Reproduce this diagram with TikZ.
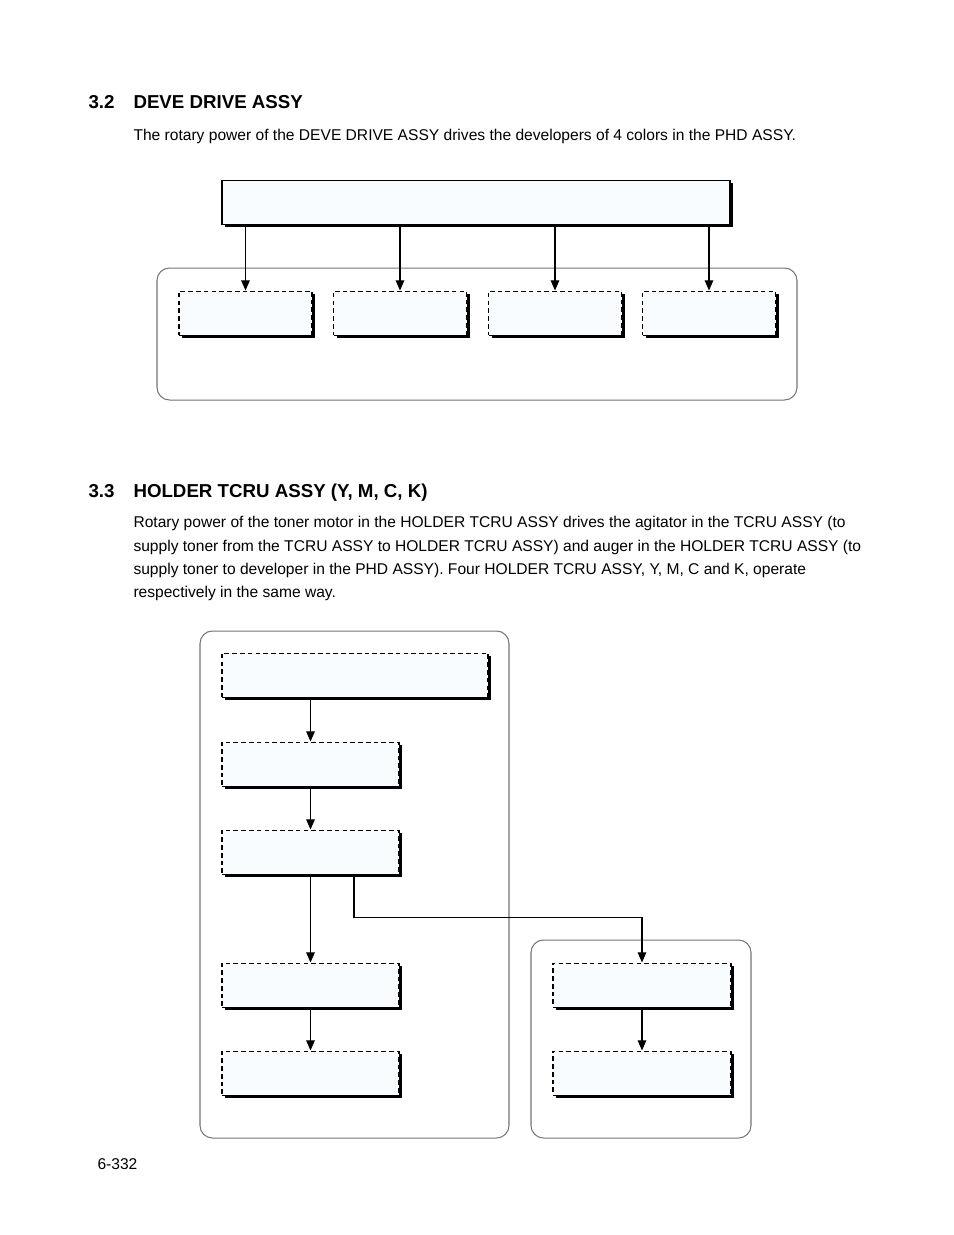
\documentclass[tikz,border=0pt]{standalone}
\usepackage{fontspec}
\setmainfont{Liberation Sans}
\usetikzlibrary{arrows.meta,shadows}
\newdimen\px \px=0.6415pt
\definecolor{boxfill}{RGB}{248,252,255}

\begin{document}
\begin{tikzpicture}
  [
  x=0.6415pt, y=-0.6415pt, line width=0.65pt,
  font=\fontsize{10}{12}\selectfont,
  head/.style={anchor=base west, inner sep=0pt, font=\fontsize{12}{14}\selectfont\bfseries},
  body/.style={anchor=base west, inner sep=0pt},
  unitbox/.style={rectangle, inner sep=0pt, draw=black, fill=boxfill, minimum height=44*\px,
    drop shadow={shadow xshift=2.2pt, shadow yshift=-2.2pt, fill=black, opacity=1}},
  devbox/.style={unitbox, dash pattern=on 3pt off 2pt},
  group/.style={draw=black!55, rounded corners=8pt},
  arr/.style={-{Triangle[length=6.5pt,width=5.5pt]}},
  ]

\useasboundingbox (0,0) rectangle (954,1235);

% 3.2
\node[head] (n32) at (88,108) {3.2};
\node[head] (t32) at (133,108) {DEVE DRIVE ASSY};
\node[body] (p32) at (133,140) {The rotary power of the DEVE DRIVE ASSY drives the developers of 4 colors in the PHD ASSY.};

\draw[group] (157,268) rectangle (797,400);
\node[unitbox, minimum width=508*\px] (deve) at (476,202) {};

\foreach \i/\x in {1/245.5,2/400,3/555,4/709} {
  \node[devbox, minimum width=133*\px] (dev\i) at (\x,313) {};
  \draw[arr] (deve.south -| dev\i.north) -- (dev\i.north);
}

% 3.3
\node[head] (n33) at (88,497) {3.3};
\node[head] (t33) at (133,497) {HOLDER TCRU ASSY (Y, M, C, K)};
\node[body] (p33a) at (133,527) {Rotary power of the toner motor in the HOLDER TCRU ASSY drives the agitator in the TCRU ASSY (to};
\node[body] (p33b) at (133,551) {supply toner from the TCRU ASSY to HOLDER TCRU ASSY) and auger in the HOLDER TCRU ASSY (to};
\node[body] (p33c) at (133,574) {supply toner to developer in the PHD ASSY). Four HOLDER TCRU ASSY, Y, M, C and K, operate};
\node[body] (p33d) at (133,597) {respectively in the same way.};

\draw[group] (200,631) rectangle (509,1138);
\draw[group] (531,940) rectangle (751,1138);

\node[devbox, minimum width=266*\px] (h1) at (355,675) {};
\node[devbox, minimum width=177*\px] (h2) at (310.5,764) {};
\node[devbox, minimum width=177*\px] (h3) at (310.5,852) {};
\node[devbox, minimum width=177*\px] (h4) at (310.5,985) {};
\node[devbox, minimum width=177*\px] (h5) at (310.5,1073) {};
\node[devbox, minimum width=178*\px] (t1) at (642,985) {};
\node[devbox, minimum width=178*\px] (t2) at (642,1073) {};
\coordinate (turn) at (354,917);

\draw[arr] (h1.south -| h2.north) -- (h2.north);
\draw[arr] (h2) -- (h3);
\draw[arr] (h3) -- (h4);
\draw[arr] (h4) -- (h5);
\draw[arr] (h3.south -| turn) -- (turn) -| (t1.north);
\draw[arr] (t1) -- (t2);

\node[body] (page) at (97,1169) {6-332};
\end{tikzpicture}
\end{document}
